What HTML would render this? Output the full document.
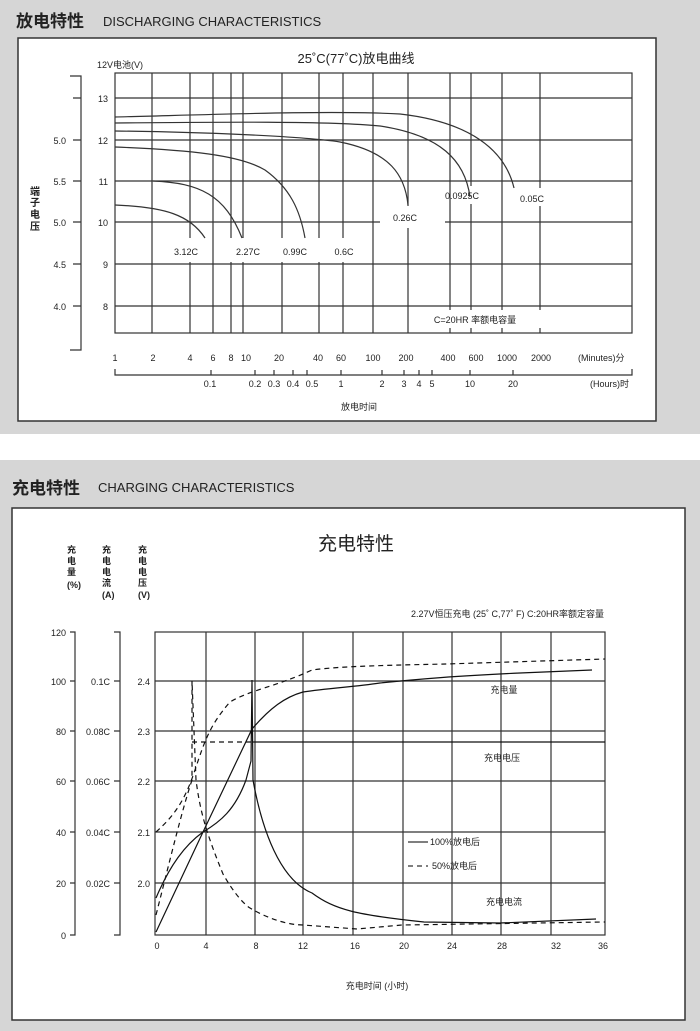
<!DOCTYPE html>
<html><head><meta charset="utf-8"><style>
html,body{margin:0;padding:0;background:#fff}
svg{display:block}
text{font-family:"Liberation Sans","Noto Sans CJK SC",sans-serif;fill:#222}
</style></head><body>
<svg width="700" height="1031" viewBox="0 0 700 1031" xmlns="http://www.w3.org/2000/svg">
<rect x="0" y="0" width="700" height="434" fill="#d6d6d6"/>
<rect x="0" y="460" width="700" height="571" fill="#d6d6d6"/>
<!-- TOP -->
<text x="16" y="27" font-size="17" font-weight="bold">放电特性</text>
<text x="103" y="26" font-size="13">DISCHARGING CHARACTERISTICS</text>
<rect x="18" y="38" width="638" height="383" fill="#fff" stroke="#333" stroke-width="1.5"/>
<text x="356" y="63" font-size="13" text-anchor="middle">25˚C(77˚C)放电曲线</text>
<text x="97" y="68" font-size="9">12V电池(V)</text>
<g stroke="#333" stroke-width="1.2" fill="none">
<rect x="115" y="73" width="517" height="260"/>
<path d="M115 98H632M115 140H632M115 181H632M115 264H632M115 306H632M115 222H380M445 222H632"/>
<path d="M152 73V333M190 73V238M190 262V333M213 73V333M231 73V238M231 262V333M243 73V238M243 262V333M282 73V238M282 262V333M319 73V238M319 262V333M343 73V238M343 262V333M373 73V333M408 73V206M408 228V333M450 73V310M450 328V333M471 73V186M471 204V310M471 328V333M502 73V310M502 328V333M540 73V188M540 206V310M540 328V333"/>
<!-- left axis -->
<path d="M70 76H81V350H70M73 98H81M73 140H81M73 181H81M73 222H81M73 264H81M73 306H81"/>
<!-- hours axis -->
<path d="M115 369V375H632V369M211 370V375M255 370V375M274 370V375M293 370V375M307 370V375M341 370V375M382 370V375M404 370V375M419 370V375M432 370V375M470 370V375M513 370V375"/>
<!-- curves -->
<path d="M115 117C200 115 330 110 400 114C470 122 505 150 514 188"/>
<path d="M115 123C220 122 330 121 380 126C440 135 465 160 470 197"/>
<path d="M115 131C200 132 300 136 340 142C390 152 405 175 408 205"/>
<path d="M115 147C190 150 240 155 265 170C290 188 300 210 305 238"/>
<path d="M153 181C200 183 225 195 242 238"/>
<path d="M115 205C165 207 190 215 205 238"/>
</g>
<g font-size="9" text-anchor="end">
<text x="66" y="144">5.0</text><text x="66" y="185">5.5</text><text x="66" y="226">5.0</text><text x="66" y="268">4.5</text><text x="66" y="310">4.0</text>
<text x="108" y="102">13</text><text x="108" y="144">12</text><text x="108" y="185">11</text><text x="108" y="226">10</text><text x="108" y="268">9</text><text x="108" y="310">8</text>
</g>
<text x="30" y="195" font-size="10" font-weight="bold">端</text><text x="30" y="206" font-size="10" font-weight="bold">子</text><text x="30" y="218" font-size="10" font-weight="bold">电</text><text x="30" y="230" font-size="10" font-weight="bold">压</text>
<g font-size="9" text-anchor="middle">
<text x="186" y="255">3.12C</text><text x="248" y="255">2.27C</text><text x="295" y="255">0.99C</text><text x="344" y="255">0.6C</text>
<text x="405" y="221">0.26C</text><text x="462" y="199">0.0925C</text><text x="532" y="202">0.05C</text>
<text x="475" y="323">C=20HR 率额电容量</text>
<text x="115" y="361">1</text><text x="153" y="361">2</text><text x="190" y="361">4</text><text x="213" y="361">6</text><text x="231" y="361">8</text><text x="246" y="361">10</text><text x="279" y="361">20</text><text x="318" y="361">40</text><text x="341" y="361">60</text><text x="373" y="361">100</text><text x="406" y="361">200</text><text x="448" y="361">400</text><text x="476" y="361">600</text><text x="507" y="361">1000</text><text x="541" y="361">2000</text>
<text x="210" y="387">0.1</text><text x="255" y="387">0.2</text><text x="274" y="387">0.3</text><text x="293" y="387">0.4</text><text x="312" y="387">0.5</text><text x="341" y="387">1</text><text x="382" y="387">2</text><text x="404" y="387">3</text><text x="419" y="387">4</text><text x="432" y="387">5</text><text x="470" y="387">10</text><text x="513" y="387">20</text>
<text x="359" y="410">放电时间</text>
</g>
<text x="578" y="361" font-size="9">(Minutes)分</text>
<text x="590" y="387" font-size="9">(Hours)时</text>
<!-- BOTTOM -->
<text x="12" y="494" font-size="17" font-weight="bold">充电特性</text>
<text x="98" y="492" font-size="13">CHARGING CHARACTERISTICS</text>
<rect x="12" y="508" width="673" height="512" fill="#fff" stroke="#333" stroke-width="1.5"/>
<text x="356" y="550" font-size="19" text-anchor="middle">充电特性</text>
<g font-size="9" font-weight="bold">
<text x="67" y="553">充</text><text x="67" y="564">电</text><text x="67" y="575">量</text><text x="67" y="588">(%)</text>
<text x="102" y="553">充</text><text x="102" y="564">电</text><text x="102" y="575">电</text><text x="102" y="586">流</text><text x="102" y="598">(A)</text>
<text x="138" y="553">充</text><text x="138" y="564">电</text><text x="138" y="575">电</text><text x="138" y="586">压</text><text x="138" y="598">(V)</text>
</g>
<text x="604" y="617" font-size="9" text-anchor="end">2.27V恒压充电 (25˚ C,77˚ F) C:20HR率额定容量</text>
<g stroke="#333" stroke-width="1.2" fill="none">
<rect x="155" y="632" width="450" height="303"/>
<path d="M155 681H605M155 731H605M155 781H605M155 832H605M155 883H605"/>
<path d="M206 632V935M255 632V935M303 632V935M353 632V935M403 632V935M452 632V935M501 632V935M551 632V935"/>
<path d="M70 632H75V935H70M70 681H75M70 731H75M70 781H75M70 832H75M70 883H75"/>
<path d="M114 632H120V935H114M114 681H120M114 731H120M114 781H120M114 832H120M114 883H120"/>
<!-- solid -->
<path stroke="#111" d="M156 932L203 832L252 729C270 708 285 697 303 692C330 688 353 687 380 683C420 679 455 676 520 673L592 670"/>
<path stroke="#111" d="M156 898C170 865 185 845 203 832C220 822 235 810 246 780L251 761L252 680L253 780C262 830 280 880 312 893C335 910 357 915 424 922L500 923L596 919"/>
<path stroke="#111" d="M252 742H605"/>
<path d="M408 842H428"/>
<path stroke-dasharray="5,4" d="M408 866H428"/>
<!-- dashed -->
<g stroke="#111" stroke-dasharray="5,4">
<path d="M156 832C175 815 185 800 195 770C205 740 210 725 230 702C250 690 275 687 312 670C340 666 400 665 446 664L605 659"/>
<path d="M156 915C170 860 182 810 192 780V681L196 780C200 810 205 830 223 874C235 895 245 905 250 908C270 920 290 925 303 925L357 929L402 925L605 922"/>
<path d="M192 742H252"/>
</g>
</g>
<g font-size="9" text-anchor="end">
<text x="66" y="636">120</text><text x="66" y="685">100</text><text x="66" y="735">80</text><text x="66" y="785">60</text><text x="66" y="836">40</text><text x="66" y="887">20</text><text x="66" y="939">0</text>
<text x="110" y="685">0.1C</text><text x="110" y="735">0.08C</text><text x="110" y="785">0.06C</text><text x="110" y="836">0.04C</text><text x="110" y="887">0.02C</text>
<text x="150" y="685">2.4</text><text x="150" y="735">2.3</text><text x="150" y="785">2.2</text><text x="150" y="836">2.1</text><text x="150" y="887">2.0</text>
</g>
<g font-size="9" text-anchor="middle">
<text x="157" y="949">0</text><text x="206" y="949">4</text><text x="256" y="949">8</text><text x="303" y="949">12</text><text x="355" y="949">16</text><text x="404" y="949">20</text><text x="452" y="949">24</text><text x="502" y="949">28</text><text x="556" y="949">32</text><text x="603" y="949">36</text>
<text x="377" y="989">充电时间 (小时)</text>
<text x="504" y="693">充电量</text><text x="502" y="761">充电电压</text><text x="504" y="905">充电电流</text>
</g>
<text x="430" y="845" font-size="9">100%放电后</text>
<text x="432" y="869" font-size="9">50%放电后</text>
</svg>
</body></html>
